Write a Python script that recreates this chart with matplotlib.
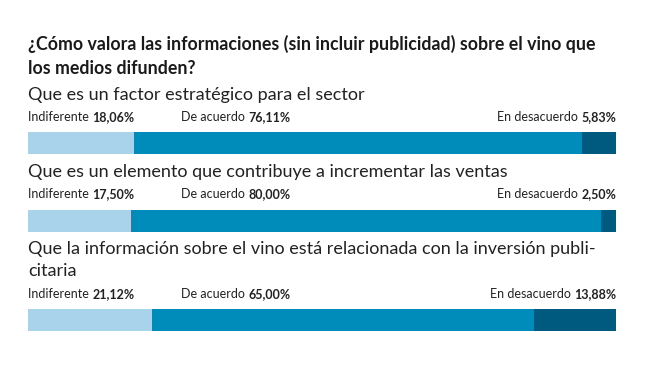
import matplotlib
matplotlib.use("Agg")
import matplotlib.pyplot as plt

# data
title = "¿Cómo valora las informaciones (sin incluir publicidad) sobre el vino que\nlos medios difunden?"
questions = [
    "Que es un factor estratégico para el sector",
    "Que es un elemento que contribuye a incrementar las ventas",
    "Que la información sobre el vino está relacionada con la inversión publi-\ncitaria",
]
categories = ["Indiferente", "De acuerdo", "En desacuerdo"]
indiferente = [18.06, 17.50, 21.12]
de_acuerdo = [76.11, 80.00, 65.00]
en_desacuerdo = [5.83, 2.50, 13.88]

colors = ["#a9d3ea", "#008cba", "#00597e"]
W, H = 652, 371
FONT = ["Lato", "DejaVu Sans"]

fig = plt.figure(figsize=(W / 100, H / 100), dpi=100)
fig.patch.set_facecolor("white")


def px(x, y):
    # pixel position (from top-left) to figure fraction
    return x / W, 1 - y / H


def two_part(x, y, light, bold, ha="left"):
    r = fig.canvas.get_renderer()
    if ha == "left":
        t1 = fig.text(*px(x, y), light + " ", fontsize=9, family=FONT,
                      color="#222222", va="center", ha="left")
        w = t1.get_window_extent(r).width
        fig.text(*px(x + w, y), bold, fontsize=9, family=FONT,
                 fontweight="bold", color="#222222", va="center", ha="left")
    else:
        t2 = fig.text(*px(x, y), bold, fontsize=9, family=FONT,
                      fontweight="bold", color="#222222", va="center", ha="right")
        w = t2.get_window_extent(r).width
        fig.text(*px(x - w, y), light + " ", fontsize=9, family=FONT,
                 color="#222222", va="center", ha="right")


fig.text(*px(28, 56), title, fontsize=12.8, family=FONT, fontweight="bold",
         color="#1a1a1a", va="center", ha="left", linespacing=1.45)

left_x, right_x = 28, 616
q_y = [95, 172, 260]
lab_y = [117, 194, 294]
bar_top = [132, 210, 309]
bar_h = 22

for i, q in enumerate(questions):
    fig.text(*px(left_x, q_y[i]), q, fontsize=13, family=FONT,
             color="#222222", va="center", ha="left", linespacing=1.4)
    vals = [indiferente[i], de_acuerdo[i], en_desacuerdo[i]]
    two_part(left_x, lab_y[i], categories[0], f"{vals[0]:.2f}%".replace(".", ","))
    two_part(181, lab_y[i], categories[1], f"{vals[1]:.2f}%".replace(".", ","))
    two_part(right_x, lab_y[i], categories[2], f"{vals[2]:.2f}%".replace(".", ","), ha="right")

    ax = fig.add_axes([left_x / W, 1 - (bar_top[i] + bar_h) / H,
                       (right_x - left_x) / W, bar_h / H])
    left = 0
    for v, c in zip(vals, colors):
        ax.barh(0, v, left=left, height=1, color=c, edgecolor="none")
        left += v
    ax.set_xlim(0, sum(vals))
    ax.set_ylim(-0.5, 0.5)
    ax.axis("off")

fig.savefig("out.png", dpi=100)
